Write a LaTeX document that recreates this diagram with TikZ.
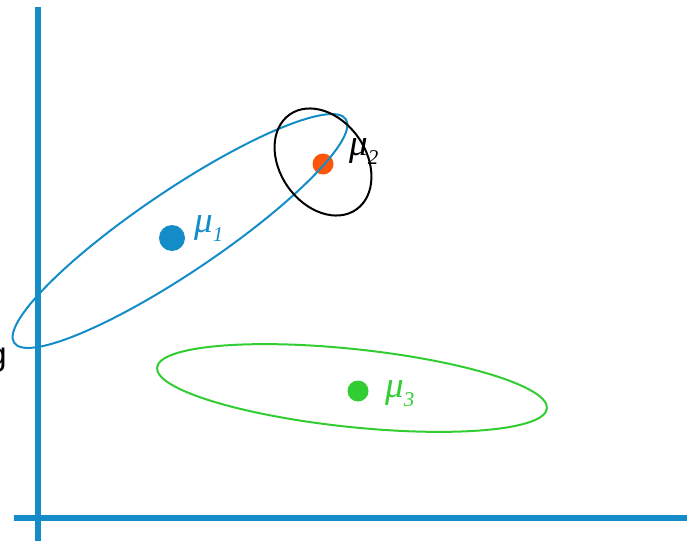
\documentclass[tikz,border=0pt]{standalone}
\usepackage{fontspec}
\setmainfont{Liberation Serif}
\setsansfont{Liberation Sans}
\usetikzlibrary{positioning}
\definecolor{axisblue}{RGB}{20,140,200}
\definecolor{meanorange}{RGB}{255,85,10}
\definecolor{meangreen}{RGB}{50,205,50}
\newcommand{\meanlbl}[1]{μ\raisebox{-9pt}{\fontsize{21}{21}\selectfont #1}}
\tikzset{
  axis/.style={draw=axisblue, line width=6pt},
  spread/.style={line width=2pt},
  mean/.style={circle, inner sep=0pt, minimum size=#1},
  lbl/.style={font=\fontsize{37}{40}\selectfont\itshape, inner sep=0pt, anchor=base west},
}
\begin{document}
\begin{tikzpicture}[x=1pt,y=1pt]
  \useasboundingbox (0,0) rectangle (687,-540);
  % axes
  \coordinate (ytop) at (38,-7);
  \coordinate (ybot) at (38,-545);
  \coordinate (xleft) at (14,-518);
  \coordinate (xright) at (692,-518);
  \draw[axis] (ytop) -- (ybot);
  \draw[axis] (xleft) -- (xright);
  \node[font=\sffamily\fontsize{33}{36}\selectfont, inner sep=0pt, anchor=base east] (cut) at (7,-365) {g};
  % means
  \node[mean=26pt, fill=axisblue] (m1) at (172,-238) {};
  \node[mean=21pt, fill=meanorange] (m2) at (323,-164) {};
  \node[mean=21pt, fill=meangreen] (m3) at (358,-391) {};
  \node[lbl, text=axisblue] (l1) at (194,-232) {\meanlbl{1}};
  \node[lbl, text=black] (l2) at (349,-156) {\meanlbl{2}};
  \node[lbl, text=meangreen] (l3) at (385,-397) {\meanlbl{3}};
  % spreads
  \coordinate (c1) at (180,-231);
  \coordinate (c2) at (323,-162);
  \coordinate (c3) at (352,-388);
  \draw[spread, draw=axisblue, rotate around={34:(c1)}] (c1) ellipse [x radius=200, y radius=41];
  \draw[spread, draw=black, rotate around={-55:(c2)}] (c2) ellipse [x radius=58, y radius=43];
  \draw[spread, draw=meangreen, rotate around={-6:(c3)}] (c3) ellipse [x radius=196, y radius=39];
\end{tikzpicture}
\end{document}
